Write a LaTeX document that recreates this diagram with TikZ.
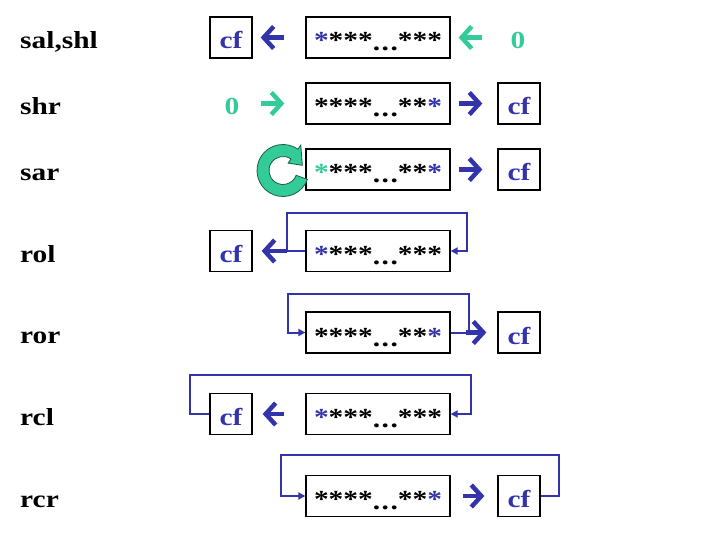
\documentclass[tikz,border=0pt]{standalone}
\usepackage{fontspec}
\setmainfont{Liberation Serif}[FakeStretch=1.2]
\usetikzlibrary{arrows.meta}
\definecolor{myblue}{RGB}{51,51,170}
\definecolor{mygreen}{RGB}{51,204,153}
\definecolor{ringedge}{RGB}{30,90,70}
\tikzset{
 txt/.style={font=\fontsize{24.5}{28}\selectfont\bfseries},
 lbl/.style={txt, anchor=base west, inner sep=0pt},
 reg/.style={txt, draw=black, line width=1.3pt, minimum width=144pt, minimum height=41pt, inner sep=0pt, text height=27pt, text depth=0pt},
 cfbox/.style={txt, draw=black, line width=1.3pt, minimum width=42pt, minimum height=41pt, inner sep=0pt, text height=23pt, text depth=0pt, text=myblue},
 zero/.style={txt, text=mygreen, inner sep=0pt, text height=23pt, text depth=0pt},
 bigarr/.style={line width=4.5pt, -{Straight Barb[length=10pt,width=22pt]}},
 bluearr/.style={bigarr, draw=myblue},
 greenarr/.style={bigarr, draw=mygreen},
 loopline/.style={draw=myblue, line width=2pt, -{Triangle[length=7pt,width=7pt]}},
}
\newcommand{\st}{\raisebox{2pt}{*}}
\newcommand{\bs}{\textcolor{myblue}{\st}}
\newcommand{\gs}{\textcolor{mygreen}{\st}}
\newcommand{\dd}{.\kern1.5pt.\kern1.5pt.}
\begin{document}
\begin{tikzpicture}[x=1pt,y=-1pt]
\useasboundingbox (0,0) rectangle (720,540);
% labels
\node[lbl] (l1) at (20,48.5) {sal,shl};
\node[lbl] (l2) at (20,114.5) {shr};
\node[lbl] (l3) at (20,180.5) {sar};
\node[lbl] (l4) at (20,262) {rol};
\node[lbl] (l5) at (20,343.5) {ror};
\node[lbl] (l6) at (20,425) {rcl};
\node[lbl] (l7) at (20,507) {rcr};
% row 1
\node[cfbox] (c1) at (231,37.5) {cf};
\node[reg] (m1) at (378,37.5) {\bs\st\st\st\dd\st\st\st};
\node[zero] (z1) at (518,37.5) {0};
\draw[bluearr, shorten <=21pt, shorten >=8pt] (m1) -- (c1);
\draw[greenarr, shorten <=28pt, shorten >=8pt] (z1) -- (m1);
% row 2
\node[zero] (z2) at (232,103.5) {0};
\node[reg] (m2) at (378,103.5) {\st\st\st\st\dd\st\st\bs};
\node[cfbox] (c2) at (519,103.5) {cf};
\draw[greenarr, shorten <=21pt, shorten >=21pt] (z2) -- (m2);
\draw[bluearr, shorten <=8pt, shorten >=15pt] (m2) -- (c2);
% row 3
\node[reg] (m3) at (378,169.5) {\gs\st\st\st\dd\st\st\bs};
\node[cfbox] (c3) at (519,169.5) {cf};
\draw[bluearr, shorten <=8pt, shorten >=15pt] (m3) -- (c3);
\begin{scope}[shift={(283,170.5)}, yscale=-1]
\filldraw[fill=mygreen, draw=ringedge, line width=0.8pt]
  (-20:26) arc[start angle=-20, end angle=-305, radius=26]
  -- (-305:31) -- (-345:20) -- (-305:9) -- (-305:14)
  arc[start angle=-305, end angle=-20, radius=14] -- cycle;
\end{scope}
% row 4 rol
\node[cfbox] (c4) at (231,251) {cf};
\node[reg] (m4) at (378,251) {\bs\st\st\st\dd\st\st\st};
\draw[loopline] (m4.west) -- ++(-18,0) coordinate (k4) -- ++(0,-38) -- ++(180,0) -- ++(0,38) -- (m4.east);
\draw[bluearr, shorten >=9pt] (k4) -- (c4);
% row 5 ror
\node[reg] (m5) at (378,332.5) {\st\st\st\st\dd\st\st\bs};
\node[cfbox] (c5) at (519,332.5) {cf};
\draw[loopline] (m5.east) -- ++(18,0) coordinate (k5) -- ++(0,-39) -- ++(-181,0) -- ++(0,39) -- (m5.west);
\draw[bluearr, shorten <=-3pt, shorten >=11pt] (k5) -- (c5);
% row 6 rcl
\node[cfbox] (c6) at (231,414) {cf};
\node[reg] (m6) at (378,414) {\bs\st\st\st\dd\st\st\st};
\draw[bluearr, shorten <=21pt, shorten >=10pt] (m6) -- (c6);
\draw[loopline] (c6.west) -- ++(-19,0) -- ++(0,-39) -- ++(281,0) -- ++(0,39) -- (m6.east);
% row 7 rcr
\node[reg] (m7) at (378,496) {\st\st\st\st\dd\st\st\bs};
\node[cfbox] (c7) at (519,496) {cf};
\draw[bluearr, shorten <=12pt, shorten >=13pt] (m7) -- (c7);
\draw[loopline] (c7.east) -- ++(18,0) -- ++(0,-41) -- ++(-278,0) -- ++(0,41) -- (m7.west);
\end{tikzpicture}
\end{document}
